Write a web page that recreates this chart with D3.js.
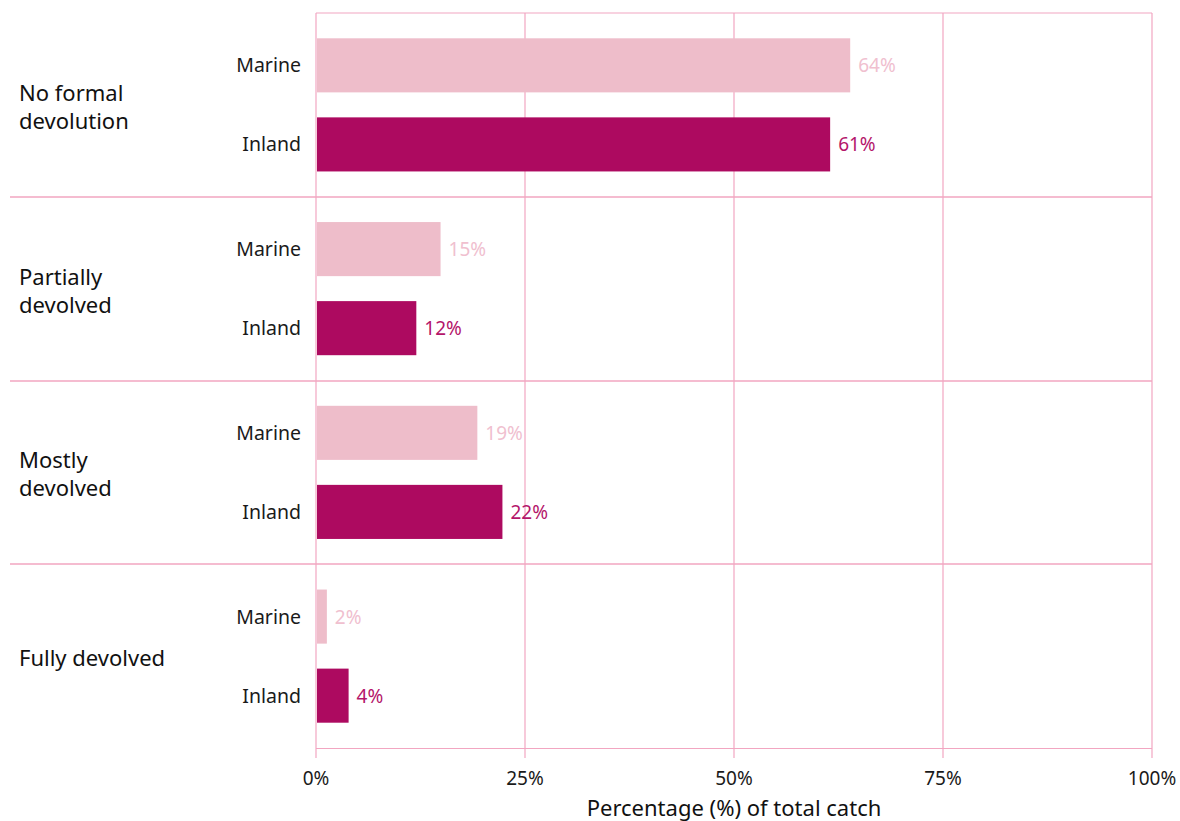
<!DOCTYPE html>
<html><head><meta charset="utf-8">
<script src="https://cdn.jsdelivr.net/npm/d3@7"></script>
<style>body{margin:0;background:#fff;} text{font-family:"Noto Sans",sans-serif;}</style>
</head><body>
<svg id="c" width="1180" height="821"></svg>
<script>
const categories = [["No formal","devolution"],["Partially","devolved"],["Mostly","devolved"],["Fully devolved"]];
const series = ["Marine","Inland"];
const marineValues = [63.9, 14.9, 19.3, 1.3];
const inlandValues = [61.5, 12.0, 22.3, 3.9];
const marineLabels = ["64%","15%","19%","2%"];
const inlandLabels = ["61%","12%","22%","4%"];
const tickValues = [0,25,50,75,100];
const tickLabels = ["0%","25%","50%","75%","100%"];
const axisTitle = "Percentage (%) of total catch";

const colors = {Marine:"#eebdca", Inland:"#ad0a60"};
const labelColors = {Marine:"#f0c0cf", Inland:"#b4156a"};
const gridColor = "#f2a6c1";

const svg = d3.select("#c");
const x = d3.scaleLinear().domain([0,100]).range([316,1152]);
const y = d3.scaleBand().domain(d3.range(categories.length)).range([13,748]).padding(0);
const sub = d3.scaleBand().domain(series).range([0,y.bandwidth()]).paddingInner(0.316).paddingOuter(0.32);

const grid = svg.append("g");
tickValues.forEach(v=>{
  grid.append("line").attr("x1",x(v)).attr("x2",x(v)).attr("y1",13).attr("y2",758)
    .attr("stroke",gridColor).attr("stroke-width",1.2);
});
grid.append("line").attr("x1",x(0)).attr("x2",x(100)).attr("y1",13).attr("y2",13).attr("stroke",gridColor).attr("stroke-width",1.2);
grid.append("line").attr("x1",x(0)).attr("x2",x(100)).attr("y1",748.5).attr("y2",748.5).attr("stroke",gridColor).attr("stroke-width",1.2);
for(let i=1;i<categories.length;i++){
  const yy = Math.round(y(i));
  grid.append("line").attr("x1",10).attr("x2",x(100)).attr("y1",yy).attr("y2",yy).attr("stroke",gridColor).attr("stroke-width",1.4);
}

const data = categories.map((c,i)=>({cat:c,i,vals:[
  {s:"Marine",v:marineValues[i],l:marineLabels[i]},
  {s:"Inland",v:inlandValues[i],l:inlandLabels[i]}]}));

const g = svg.append("g").selectAll("g").data(data).join("g")
  .attr("transform",d=>`translate(0,${y(d.i)})`);

g.selectAll("rect").data(d=>d.vals).join("rect")
  .attr("x",x(0)+1).attr("y",d=>sub(d.s)).attr("height",sub.bandwidth())
  .attr("width",d=>x(d.v)-x(0)-1).attr("fill",d=>colors[d.s]);

g.selectAll("text.val").data(d=>d.vals).join("text").attr("class","val")
  .attr("x",d=>x(d.v)+8).attr("y",d=>sub(d.s)+sub.bandwidth()/2+7)
  .attr("font-size",19).attr("fill",d=>labelColors[d.s]).text(d=>d.l);

g.selectAll("text.ser").data(d=>d.vals).join("text").attr("class","ser")
  .attr("x",301).attr("y",d=>sub(d.s)+sub.bandwidth()/2+7).attr("text-anchor","end")
  .attr("font-size",19.5).attr("fill","#1a1a1a").text(d=>d.s);

g.each(function(d){
  const t = d3.select(this).append("text").attr("font-size",22).attr("fill","#111");
  const n = d.cat.length, lh = 28;
  const c = y.bandwidth()/2 + 10;
  d.cat.forEach((line,k)=>{
    t.append("tspan").attr("x",19).attr("y",c + (k-(n-1)/2)*lh).text(line);
  });
});

const ax = svg.append("g");
tickValues.forEach((v,i)=>{
  ax.append("text").attr("x",x(v)).attr("y",785).attr("text-anchor","middle")
    .attr("font-size",19).attr("fill","#1a1a1a").text(tickLabels[i]);
});
svg.append("text").attr("x",734).attr("y",816).attr("text-anchor","middle")
  .attr("font-size",22).attr("fill","#111").text(axisTitle);
</script>
</body></html>
